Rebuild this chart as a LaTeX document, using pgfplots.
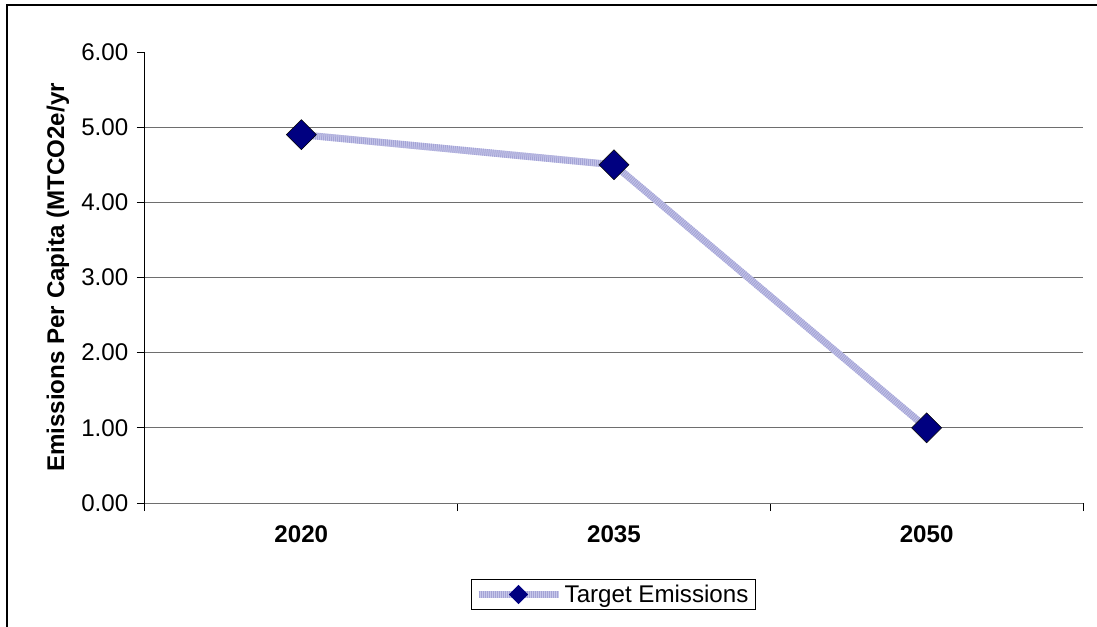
\documentclass[border=0pt]{standalone}
\usepackage{pgfplots}
\pgfplotsset{compat=1.18}
\usepackage{fontspec}
\setmainfont{Liberation Sans}
\definecolor{navy}{HTML}{000080}
\definecolor{lavbase}{HTML}{C8C8EA}
\definecolor{lavstripe}{HTML}{A4A4D6}
\definecolor{gridgray}{HTML}{6E6E6E}
\newcommand{\fs}{\fontsize{18.1pt}{21pt}\selectfont}
\begin{document}
\begin{tikzpicture}
\useasboundingbox (0,0) rectangle (822.75pt,469.5pt);
\draw[line width=1.1pt, black] (5.25pt,-30pt) rectangle (860pt,465.75pt);
\begin{axis}[
  at={(108.75pt,92.25pt)}, anchor=south west,
  scale only axis, width=703.5pt, height=338.25pt,
  xmin=-0.5, xmax=2.5, ymin=0, ymax=6,
  clip=false,
  axis x line*=bottom, axis y line*=left,
  axis line style={-},
  x axis line style={draw=gridgray, line width=0.75pt},
  y axis line style={draw=black, line width=0.75pt},
  tick align=outside, major tick length=6pt,
  tick style={black, line width=0.75pt},
  xtick={-0.5,0.5,1.5,2.5}, xticklabels={},
  extra x ticks={0,1,2}, extra x tick labels={2020,2035,2050},
  extra x tick style={grid=none, major tick length=0pt,
    tick label style={font=\bfseries\fs, yshift=-13.5pt}},
  ytick={0,1,2,3,4,5,6},
  extra y ticks={1,2,3,4,5}, extra y tick labels={},
  extra y tick style={grid=major},
  major grid style={draw=gridgray, line width=0.75pt},
  /pgf/number format/assume math mode=true,
  yticklabel style={xshift=-3pt, /pgf/number format/.cd, fixed, fixed zerofill, precision=2, /tikz/.cd},
  tick label style={font=\fs},
  ylabel={Emissions Per Capita (MTCO2e/yr},
  every axis y label/.style={at={(axis description cs:-0.0928,0.5)}, rotate=90, anchor=center, font=\bfseries\fs},
  legend style={at={(axis description cs:0.499,-0.2029)}, anchor=center,
    draw=black, line width=0.75pt, font=\fs, inner xsep=3pt, inner ysep=2pt},
  legend cell align=left,
]
\addplot[forget plot, lavbase, line width=5.25pt] coordinates {(0,4.9) (1,4.5) (2,1.0)};
\addplot[forget plot, lavstripe, line width=5.25pt, dash pattern=on 0.75pt off 0.75pt] coordinates {(0,4.9) (1,4.5) (2,1.0)};
\addplot[only marks, mark=square*, mark size=7.95pt,
  mark options={rotate=45, fill=navy, draw=none},
  legend image code/.code={
    \draw[lavbase, line width=5.25pt] (0pt,0pt) -- (60pt,0pt);
    \draw[lavstripe, line width=5.25pt, dash pattern=on 0.75pt off 0.75pt] (0pt,0pt) -- (60pt,0pt);
    \fill[navy] (30pt,6.75pt) -- (36.75pt,0pt) -- (30pt,-6.75pt) -- (23.25pt,0pt) -- cycle;
  }] coordinates {(0,4.9) (1,4.5) (2,1.0)};
\addlegendentry{Target Emissions}
\end{axis}
\end{tikzpicture}
\end{document}
